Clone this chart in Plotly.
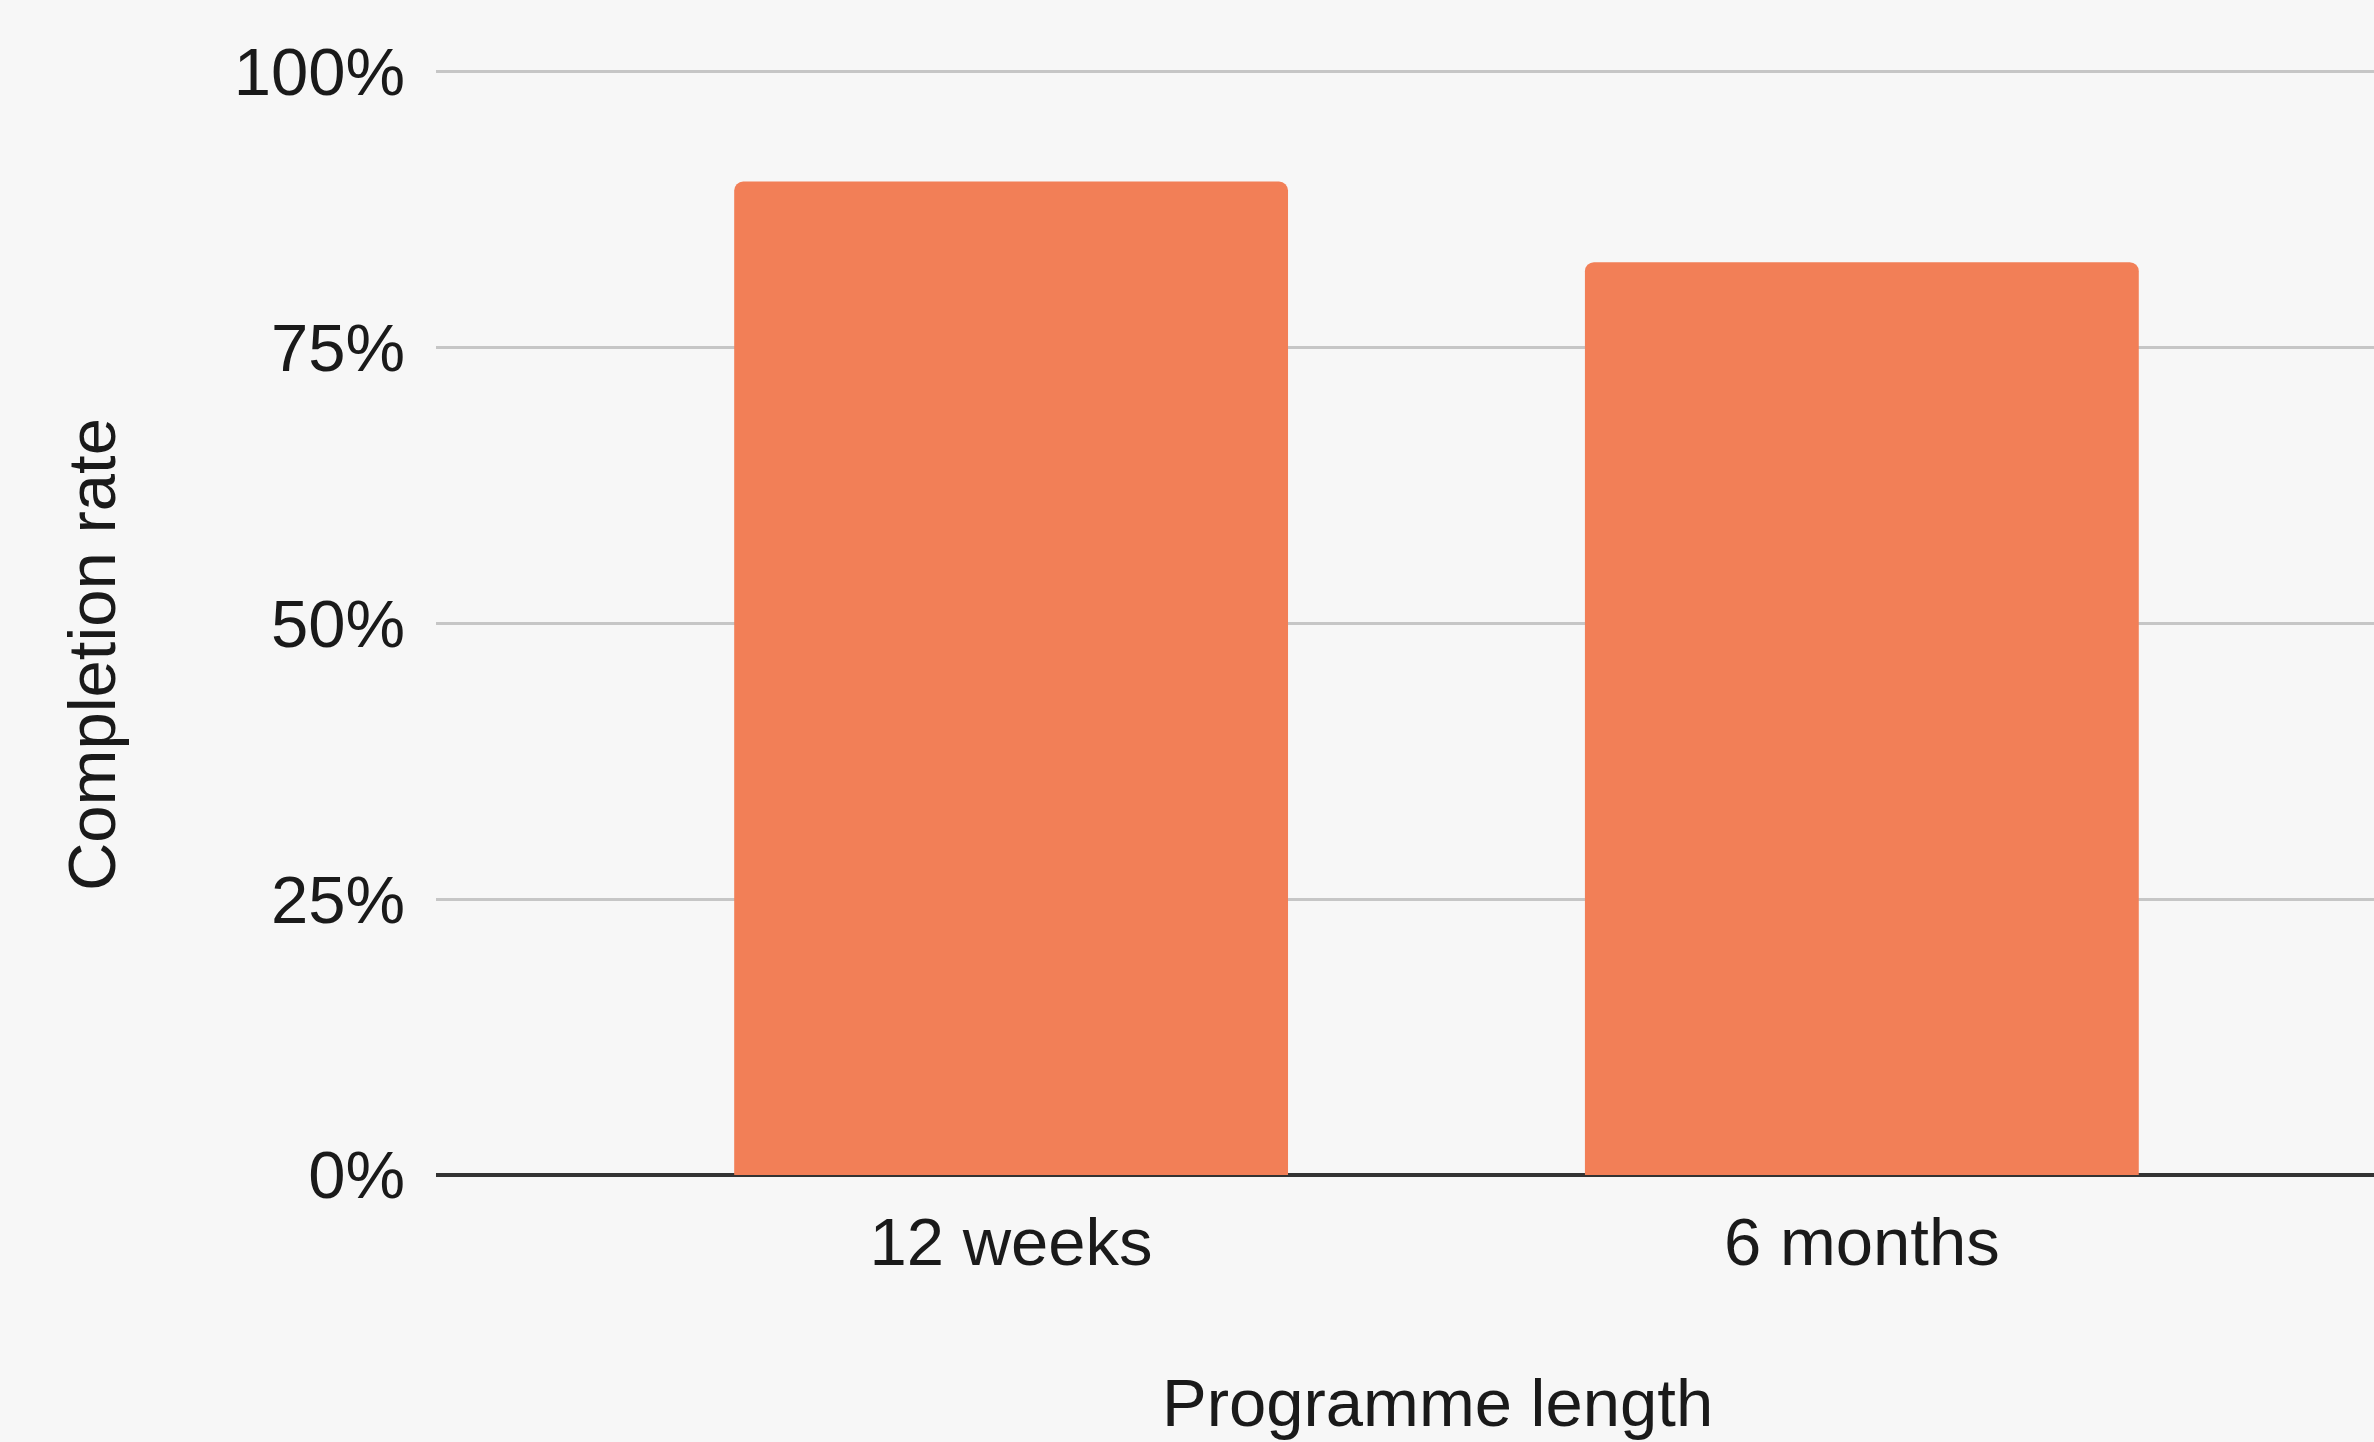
import plotly.graph_objects as go

categories = ["12 weeks", "6 months"]
completion_rate = [0.90, 0.827]
y_ticks = [0, 0.25, 0.5, 0.75, 1.0]
y_tick_labels = ["0%", "25%", "50%", "75%", "100%"]
x_title = "Programme length"
y_title = "Completion rate"

W, H = 2374, 1442
L, R, T, B = 436, 0, 69, 267
FONT = "Liberation Sans, Arial, sans-serif"
FS = 67
TXT = "#1a1a1a"
Y_MAX = 1.002

fig = go.Figure(
    go.Bar(
        x=[0, 1],
        y=completion_rate,
        width=0.651,
        marker=dict(color="#f27f57", line=dict(width=0)),
        hoverinfo="skip",
    )
)

fig.update_layout(
    width=W,
    height=H,
    margin=dict(l=L, r=R, t=T, b=B, pad=0),
    paper_bgcolor="#f7f7f7",
    plot_bgcolor="#f7f7f7",
    showlegend=False,
    barcornerradius=9,
    font=dict(family=FONT, size=FS, color=TXT),
    xaxis=dict(
        range=[-0.676, 1.602],
        tickmode="array",
        tickvals=[0, 1],
        ticktext=categories,
        showgrid=False,
        zeroline=False,
        showline=False,
        ticks="",
        ticklabelstandoff=22,
        tickfont=dict(family=FONT, size=FS, color=TXT),
        fixedrange=True,
    ),
    yaxis=dict(
        range=[0, Y_MAX],
        tickmode="array",
        tickvals=y_ticks,
        ticktext=y_tick_labels,
        showgrid=True,
        gridcolor="#c6c6c6",
        gridwidth=3,
        zeroline=True,
        zerolinecolor="#333333",
        zerolinewidth=4,
        showline=False,
        ticks="",
        ticklabelstandoff=30,
        tickfont=dict(family=FONT, size=FS, color=TXT),
        fixedrange=True,
    ),
    annotations=[
        dict(
            text=y_title,
            xref="paper",
            yref="paper",
            x=(91 - L) / (W - L - R),
            y=(1175 - 656) / (1175 - 71),
            xanchor="center",
            yanchor="middle",
            textangle=-90,
            showarrow=False,
            font=dict(family=FONT, size=FS, color=TXT),
        ),
        dict(
            text=x_title,
            xref="paper",
            yref="paper",
            x=(1437 - L) / (W - L - R),
            y=(1175 - 1402) / (1175 - 71),
            xanchor="center",
            yanchor="middle",
            showarrow=False,
            font=dict(family=FONT, size=FS, color=TXT),
        ),
    ],
)

fig.write_html("out.html")
